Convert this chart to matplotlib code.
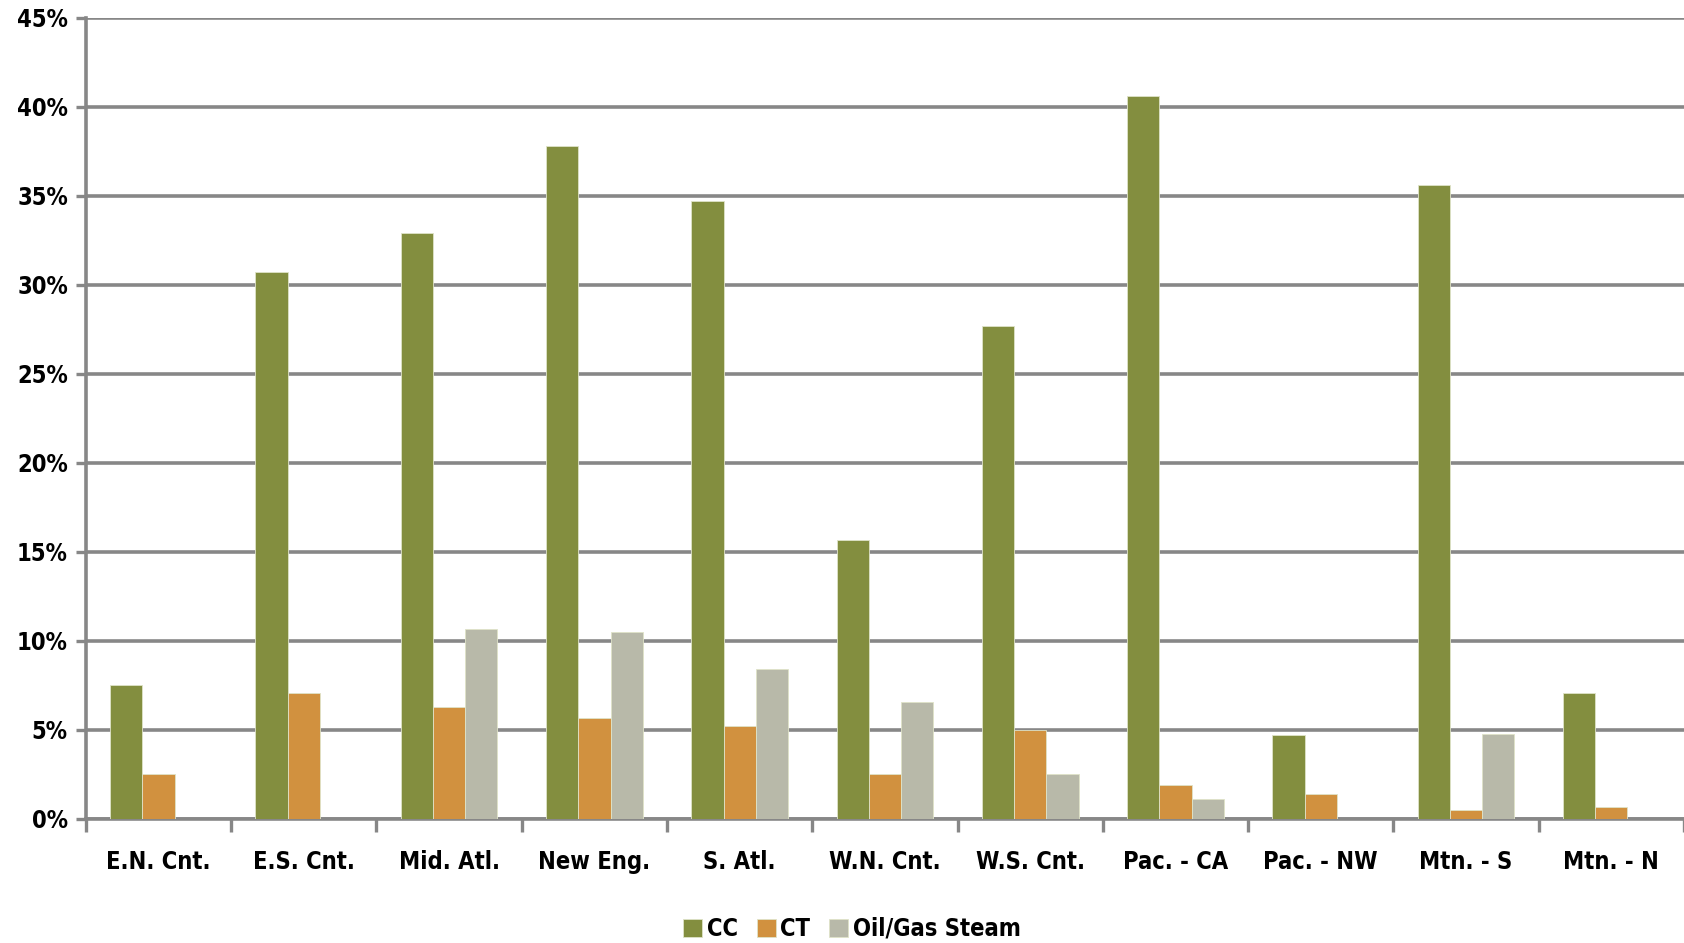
import matplotlib.pyplot as plt
import numpy as np
from matplotlib.ticker import FixedLocator, PercentFormatter

regions = ["E.N. Cnt.", "E.S. Cnt.", "Mid. Atl.", "New Eng.", "S. Atl.", "W.N. Cnt.",
           "W.S. Cnt.", "Pac. - CA", "Pac. - NW", "Mtn. - S", "Mtn. - N"]
cc = [7.5, 30.7, 32.9, 37.8, 34.7, 15.7, 27.7, 40.6, 4.7, 35.6, 7.1]
ct = [2.5, 7.1, 6.3, 5.7, 5.2, 2.5, 5.0, 1.9, 1.4, 0.5, 0.7]
steam = [0.0, 0.0, 10.7, 10.5, 8.4, 6.6, 2.5, 1.1, 0.0, 4.8, 0.0]

series = [("CC", cc, "#838E3F"), ("CT", ct, "#D1913F"), ("Oil/Gas Steam", steam, "#B8B9A9")]

plt.rcParams['font.family'] = ['DejaVu Sans']
plt.rcParams['font.stretch'] = 'condensed'
plt.rcParams['font.weight'] = 'bold'

fig = plt.figure(figsize=(16.84, 9.43), dpi=100)
ax = fig.add_axes([0.051, 0.1315, 0.949, 0.8495])

x = np.arange(len(regions))
w = 0.222
for i, (name, vals, col) in enumerate(series):
    ax.bar(x + (i - 1) * w, vals, width=w, color=col, edgecolor="#dfe3c8",
           linewidth=0.6, label=name, zorder=3)

ax.set_xlim(-0.5, len(regions) - 0.5)
ax.set_ylim(0, 45)
ax.set_yticks(np.arange(0, 46, 5))
ax.yaxis.set_major_formatter(PercentFormatter(decimals=0))
ax.grid(axis="y", color="#878787", linewidth=2.6, zorder=0)

ax.set_xticks(x)
ax.set_xticklabels(regions)
ax.xaxis.set_minor_locator(FixedLocator(np.arange(-0.5, len(regions), 1)))
ax.tick_params(axis="x", which="major", length=0, pad=22, labelsize=17)
ax.tick_params(axis="x", which="minor", length=9, width=2.4, color="#878787")
ax.tick_params(axis="y", length=7, width=2.4, color="#878787", labelsize=17, pad=6)

for s in ["top", "right"]:
    ax.spines[s].set_visible(False)
for s in ["left", "bottom"]:
    ax.spines[s].set_color("#878787")
    ax.spines[s].set_linewidth(2.6)

fig.legend(loc="center", bbox_to_anchor=(0.506, 0.015), ncol=3, frameon=False,
           fontsize=17, handlelength=0.8, handleheight=0.8, handletextpad=0.2,
           columnspacing=0.8)

fig.savefig("out.png", dpi=100)
